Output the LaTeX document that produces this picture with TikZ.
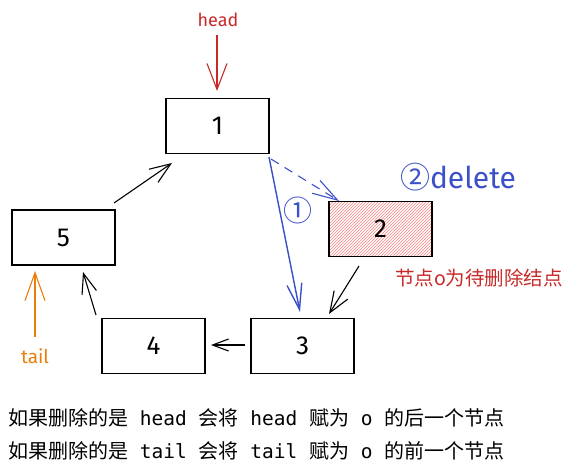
\documentclass[tikz,border=0pt]{standalone}
\usepackage{fontspec}
\setmainfont{Liberation Sans}
\newfontfamily\cjk{Noto Sans CJK SC}
\newfontfamily\code{DejaVu Sans Mono}
\newfontfamily\hand{Fira Sans}
\usetikzlibrary{patterns,arrows.meta}
\definecolor{hred}{RGB}{200,40,40}
\definecolor{hblue}{RGB}{60,80,200}
\definecolor{horange}{RGB}{235,125,10}
\newcommand{\cw}[1]{{\code\fontsize{19.5}{21}\selectfont\ #1\ }}
\tikzset{
  listbox/.style={draw=black,line width=1.4pt,minimum width=103pt,minimum height=55pt,inner sep=0pt,font=\hand\fontsize{26}{28}\selectfont},
  link/.style={line width=1.1pt},
  barb/.style 2 args={-{Straight Barb[length=#1pt,width=#2pt]}},
  textline/.style={anchor=west,font=\cjk\fontsize{20}{22}\selectfont,inner sep=0pt},
}
\begin{document}
\begin{tikzpicture}[x=1pt,y=-1pt]
\useasboundingbox (0,0) rectangle (575,475);
\node[listbox] (n1) at (217.5,126) {1};
\node[listbox,pattern={north east lines},pattern color=red!50] (n2) at (380.5,229) {};
\node[font=\hand\fontsize{26}{28}\selectfont] (n2l) at (380.5,229) {2};
\node[listbox] (n3) at (302.5,346) {3};
\node[listbox] (n4) at (153.5,346) {4};
\node[listbox] (n5) at (63.5,237.5) {5};

\node[text=hred,font=\hand\fontsize{18}{20}\selectfont] (head) at (218,20) {head};
\coordinate (headS) at (217,35);
\coordinate (headE) at (217,91);
\draw[link,hred,barb={26}{20}] (headS) -- (headE);

\node[text=horange,font=\hand\fontsize{19}{21}\selectfont] (tail) at (35,356) {tail};
\coordinate (tailS) at (35,337);
\coordinate (tailE) at (35,271);
\draw[link,horange,barb={28}{20}] (tailS) -- (tailE);

\coordinate (a51s) at (114,203);
\coordinate (a51e) at (172,163);
\draw[link,barb={21}{16}] (a51s) -- (a51e);
\coordinate (a45s) at (96,315);
\coordinate (a45e) at (83,272);
\draw[link,barb={20}{15}] (a45s) -- (a45e);
\coordinate (a34s) at (245,345);
\coordinate (a34e) at (211,345);
\draw[link,barb={16}{12}] (a34s) -- (a34e);
\coordinate (a23s) at (359,266);
\coordinate (a23e) at (329,314);
\draw[link,barb={21}{16}] (a23s) -- (a23e);

\coordinate (b13s) at (269,157);
\coordinate (b13e) at (300,312);
\draw[link,hblue,line width=1.4pt,barb={26}{15}] (b13s) -- (b13e);
\coordinate (b12s) at (271,159);
\coordinate (b12e) at (339,201);
\draw[link,hblue,dash pattern=on 9pt off 7pt,barb={25}{15}] (b12s) -- (b12e);
\node[text=hblue,font=\cjk\fontsize{29}{31}\selectfont,inner sep=0pt] (c1) at (298,210) {①};
\node[text=hblue,font=\hand\fontsize{30}{32}\selectfont,inner sep=0pt] (del) at (458,177) {{\cjk ②}delete};

\node[text=hred,font=\cjk\fontsize{19.5}{21}\selectfont,inner sep=0pt] (note) at (479,278) {节点o为待删除结点};

\node[textline] (l1) at (8,418) {如果删除的是\cw{head}会将\cw{head}赋为\cw{o}的后一个节点};
\node[textline] (l2) at (8,451) {如果删除的是\cw{tail}会将\cw{tail}赋为\cw{o}的前一个节点};
\end{tikzpicture}
\end{document}
